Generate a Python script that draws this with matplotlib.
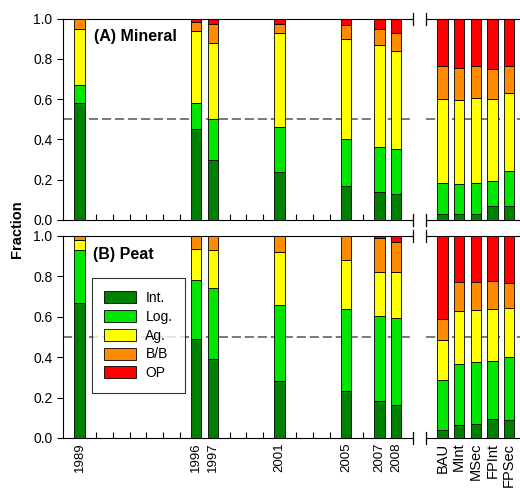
import numpy as np
import matplotlib
matplotlib.use('Agg')
from matplotlib import pyplot as plt
from matplotlib.patches import Patch

plt.rcParams['font.family'] = ['Liberation Sans', 'DejaVu Sans']

years = [1989, 1996, 1997, 2001, 2005, 2007, 2008]
scenarios = ['BAU', 'MInt', 'MSec', 'FPInt', 'FPSec']
classes = ['Int.', 'Log.', 'Ag.', 'B/B', 'OP']
colours = ['#008000', '#00e600', '#ffff00', '#ff8c00', '#ff0000']

# fractions per class, one list per year / scenario: Int, Log, Ag, B/B, OP
mineralYears = [
    [0.58, 0.09, 0.28, 0.05, 0.00],
    [0.45, 0.13, 0.36, 0.045, 0.015],
    [0.30, 0.20, 0.38, 0.095, 0.025],
    [0.24, 0.22, 0.47, 0.045, 0.025],
    [0.17, 0.23, 0.50, 0.07, 0.03],
    [0.14, 0.22, 0.51, 0.08, 0.05],
    [0.13, 0.22, 0.49, 0.09, 0.07],
]
mineralScen = [
    [0.03, 0.155, 0.415, 0.165, 0.235],
    [0.03, 0.15, 0.415, 0.16, 0.245],
    [0.03, 0.155, 0.42, 0.16, 0.235],
    [0.07, 0.125, 0.405, 0.15, 0.25],
    [0.07, 0.175, 0.385, 0.135, 0.235],
]
peatYears = [
    [0.67, 0.26, 0.05, 0.02, 0.00],
    [0.49, 0.29, 0.155, 0.065, 0.00],
    [0.39, 0.35, 0.19, 0.07, 0.00],
    [0.28, 0.38, 0.26, 0.08, 0.00],
    [0.23, 0.41, 0.24, 0.12, 0.00],
    [0.185, 0.42, 0.215, 0.17, 0.01],
    [0.165, 0.43, 0.225, 0.15, 0.03],
]
peatScen = [
    [0.04, 0.245, 0.20, 0.105, 0.41],
    [0.065, 0.30, 0.265, 0.14, 0.23],
    [0.07, 0.305, 0.26, 0.135, 0.23],
    [0.095, 0.285, 0.26, 0.135, 0.225],
    [0.09, 0.31, 0.245, 0.12, 0.235],
]


def stackBars(ax, xpos, data, width):
    data = np.array(data)
    bottom = np.zeros(len(xpos))
    for k in range(data.shape[1]):
        ax.bar(xpos, data[:, k], width, bottom=bottom, color=colours[k],
               edgecolor='black', linewidth=0.6, zorder=3)
        bottom = bottom + data[:, k]


def breakMarks(ax, xside):
    for yv in [0, 1]:
        ax.plot([xside, xside], [yv - 0.03, yv + 0.03], color='black', lw=0.9,
                transform=ax.transAxes, clip_on=False, zorder=5)


def styleLeft(ax, showYears):
    ax.set_xlim(1988, 2009)
    ax.set_ylim(0, 1)
    ax.spines['right'].set_visible(False)
    ax.axhline(0.5, color='#555555', lw=1.1, linestyle=(0, (6, 2.5)), zorder=1)
    allYears = list(range(1989, 2009))
    ax.set_xticks(allYears)
    if showYears:
        ax.set_xticklabels([str(y) if y in years else '' for y in allYears], rotation=90, fontsize=9.5)
    else:
        ax.set_xticklabels([])
    ax.tick_params(axis='x', direction='in', length=4, width=0.8)
    ax.set_yticks(np.arange(0, 1.01, 0.2))
    ax.set_yticklabels(['%.1f' % v for v in np.arange(0, 1.01, 0.2)], fontsize=10)
    ax.tick_params(axis='y', direction='out', length=4, width=0.8)
    breakMarks(ax, 1)


def styleRight(ax, showNames):
    ax.set_xlim(0, 6)
    ax.set_ylim(0, 1)
    ax.spines['left'].set_visible(False)
    ax.spines['right'].set_visible(False)
    ax.axhline(0.5, color='#555555', lw=1.1, linestyle=(0, (6, 2.5)), zorder=1)
    ax.set_yticks([])
    ax.set_xticks(range(1, 6))
    if showNames:
        ax.set_xticklabels(scenarios, rotation=90, fontsize=10.5)
    else:
        ax.set_xticklabels([])
    ax.tick_params(axis='x', length=0)
    breakMarks(ax, 0)


fig = plt.figure(figsize=(5.2, 4.93), dpi=100)
axA = fig.add_axes([0.121, 0.554, 0.673, 0.408])
axAr = fig.add_axes([0.819, 0.554, 0.192, 0.408])
axB = fig.add_axes([0.121, 0.1116, 0.673, 0.41])
axBr = fig.add_axes([0.819, 0.1116, 0.192, 0.41])

stackBars(axA, years, mineralYears, 0.62)
stackBars(axAr, range(1, 6), mineralScen, 0.62)
stackBars(axB, years, peatYears, 0.62)
stackBars(axBr, range(1, 6), peatScen, 0.62)

styleLeft(axA, False)
styleLeft(axB, True)
styleRight(axAr, False)
styleRight(axBr, True)

axA.text(0.089, 0.91, '(A) Mineral', transform=axA.transAxes, fontsize=11.5,
         fontweight='bold', va='center', ha='left')
axB.text(0.086, 0.906, '(B) Peat', transform=axB.transAxes, fontsize=11.5,
         fontweight='bold', va='center', ha='left')

fig.text(0.032, 0.535, 'Fraction', rotation=90, fontsize=10.5, fontweight='bold',
         va='center', ha='center')

handles = [Patch(facecolor=c, edgecolor='black', linewidth=0.6) for c in colours]
leg = axB.legend(handles, classes, loc='upper left', bbox_to_anchor=(0.083, 0.79),
                 fontsize=10, frameon=True, fancybox=False, edgecolor='black',
                 handlelength=2.3, handleheight=0.95, handletextpad=0.65,
                 labelspacing=0.35, borderpad=0.9, borderaxespad=0)
leg.get_frame().set_linewidth(0.8)
leg.set_zorder(6)

fig.savefig('out.png', dpi=100)
